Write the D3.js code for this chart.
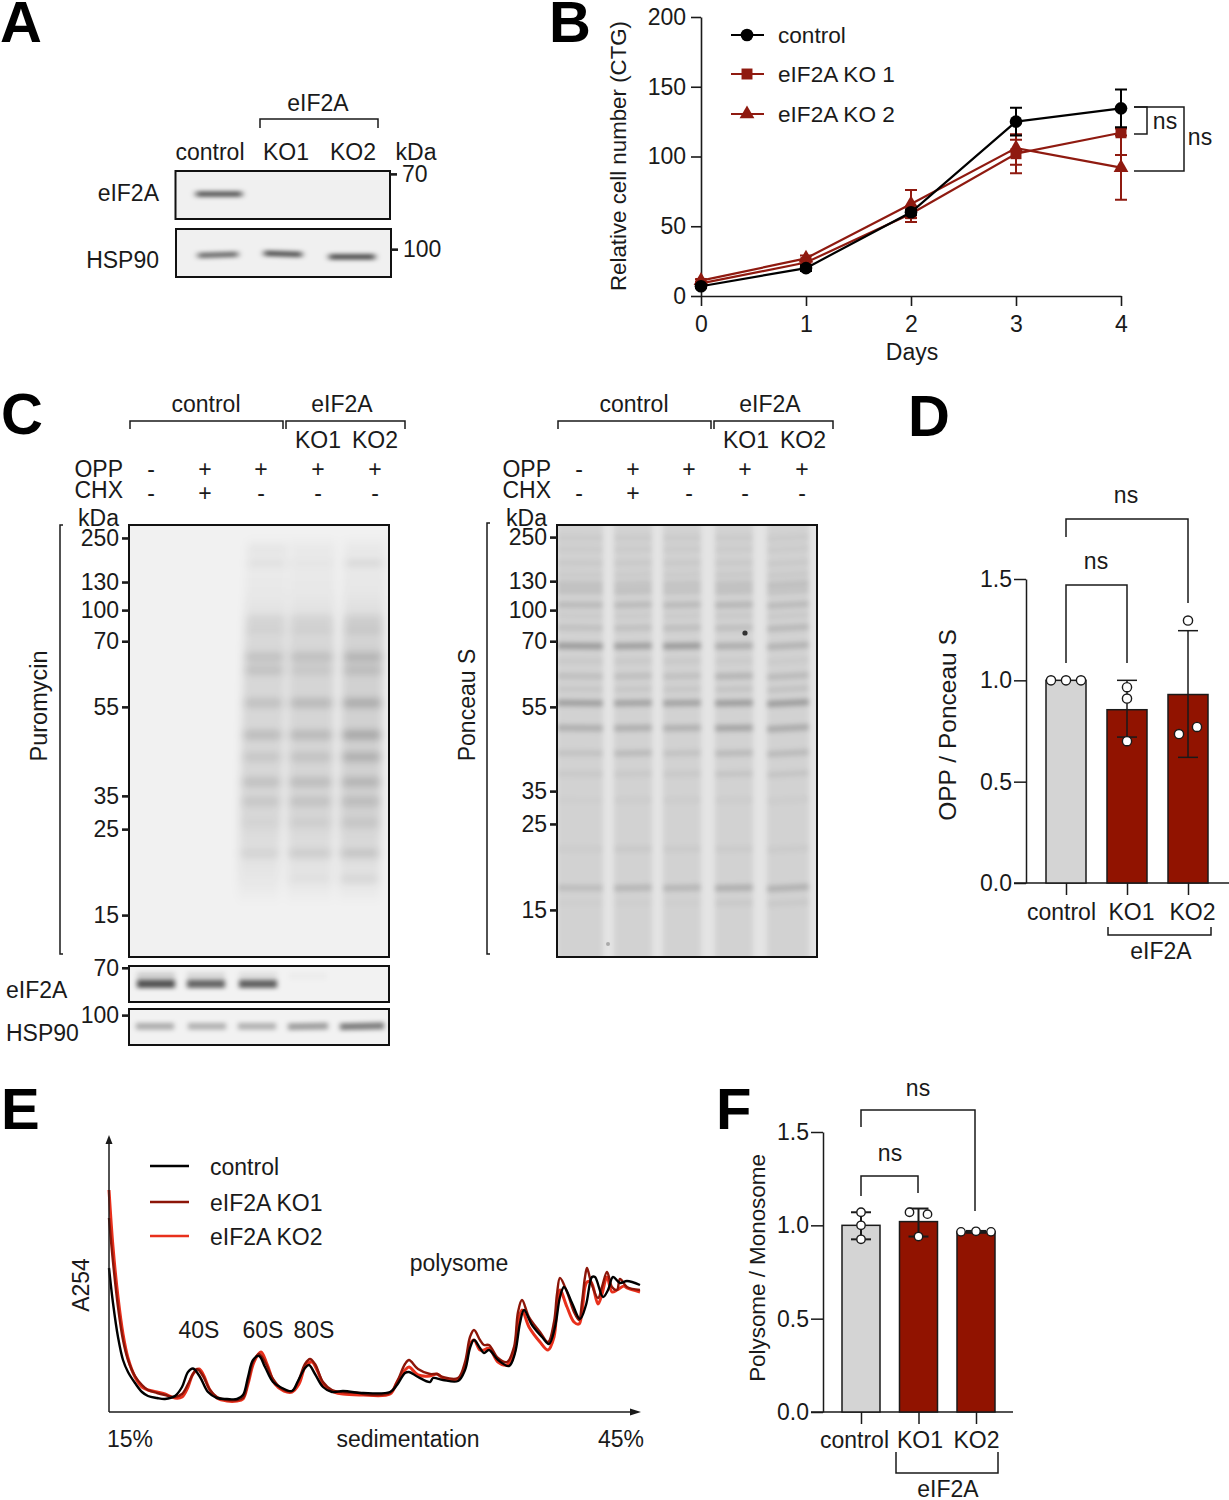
<!DOCTYPE html>
<html lang="en">
<head>
  <meta charset="UTF-8">
  <title>eIF2A knockout figure</title>
  <style>
    body { margin: 0; background: #fff; }
    svg { display: block; }
    text { font-family: "Liberation Sans", Arial, sans-serif; font-size: 23px; fill: #1a1a1a; }
    .letter { font-size: 58px; font-weight: bold; fill: #000; }
  </style>
  <script src="https://d3js.org/d3.v7.min.js"></script>
</head>
<body>
  <div id="figure"></div>

  <script>
    // ---- panel B: growth curve
    const days = [0, 1, 2, 3, 4];
    const growthControl = [7, 20, 60, 125, 134.5];
    const growthControlLow = [6, 18, 58, 115, 121];
    const growthControlHigh = [8, 22, 62, 135, 148];
    const growthKo1 = [9, 24, 59, 102, 117];
    const growthKo1Low = [8, 22, 53, 88, 101];
    const growthKo1High = [10, 26, 64, 116, 120];
    const growthKo2 = [11, 27, 66, 106, 92];
    const growthKo2Low = [10, 25, 56, 94, 69];
    const growthKo2High = [12, 29, 76, 112, 115];
    const growthTicks = [0, 50, 100, 150, 200];
    const growthNames = ["control", "eIF2A KO 1", "eIF2A KO 2"];

    // ---- panel D: OPP / Ponceau S
    const barGroups = ["control", "KO1", "KO2"];
    const oppMeans = [1.0, 0.855, 0.93];
    const oppLow = [1.0, 0.72, 0.62];
    const oppHigh = [1.0, 1.0, 1.245];
    const oppPoints = [[1, 1, 1], [0.966, 0.91, 0.70], [1.295, 0.735, 0.77]];
    const ratioTicks = [0, 0.5, 1, 1.5];

    // ---- panel F: polysome / monosome
    const polyMeans = [1.0, 1.02, 0.965];
    const polyLow = [0.925, 0.94, 0.96];
    const polyHigh = [1.07, 1.09, 0.97];
    const polyPoints = [[1.07, 1.0, 0.925], [1.07, 1.06, 0.94], [0.965, 0.968, 0.965]];

    // ---- panel E: polysome profiles, [sedimentation, A254]
    const traceControl = [[0,144],[4,109],[9,75],[14,52],[19,40],[26,29],[33,20],[39,16],[48,14],[56,13],[66,16],[73,25],[79,40],[84,43.5],[91,35],[99,20],[108,14],[118,13],[128,13],[134,17],[139,35],[144,52],[150,56],[156,45],[164,30],[173,24],[183,21],[189,31],[196,44],[200,47],[206,38],[214,25],[223,20],[234,21],[251,19],[254,19],[281,20],[288,27],[296,39],[300,40],[309,35],[321,30],[324,34],[334,32],[349,31],[356,42],[361,64],[365,72],[371,64],[375,59],[380,62],[389,52],[400,46],[406,59],[411,89],[415,102],[423,87],[433,75],[440,68],[446,85],[451,115],[455,125],[463,109],[471,93],[477,107],[483,135],[486,135],[494,115],[499,122],[504,135],[511,129],[518,131],[531,127]];
    const traceKo1 = [[0,194],[4,150],[9,105],[14,72],[19,52],[26,36],[33,27],[39,22],[48,19],[56,17],[66,15],[73,18],[79,28],[84,38],[88,43],[94,36],[101,22],[108,15],[118,12],[128,12],[134,14],[139,30],[144,50],[150,58],[156,50],[164,33],[173,23],[183,21],[189,30],[196,48],[201,53],[206,48],[214,30],[223,22],[234,20],[251,19],[254,18],[281,19],[288,30],[296,48],[300,52],[309,43],[321,38],[328,38],[334,35],[349,34],[356,50],[361,75],[365,82],[371,72],[375,67],[380,67],[389,54],[398,50],[405,65],[409,100],[413,112],[420,95],[431,80],[439,70],[445,90],[448,118],[451,134],[458,120],[465,100],[470,92],[473,110],[476,135],[478,144],[482,130],[489,114],[493,125],[498,140],[503,125],[508,122],[511,133],[518,125],[531,122]];
    const traceKo2 = [[0,222],[4,165],[9,115],[14,78],[19,54],[26,35],[33,25],[39,22],[48,20],[56,18],[66,14],[73,15],[79,25],[84,38],[90,43],[94,38],[101,22],[108,14],[118,11],[128,11],[134,13],[139,28],[145,50],[152,60],[158,48],[166,28],[175,21],[183,20],[190,28],[197,47],[203,50],[208,42],[216,25],[225,20],[234,18],[251,17],[254,17],[281,18],[288,30],[296,42],[300,45],[309,37],[321,36],[328,38],[334,34],[349,33],[356,45],[361,68],[365,72],[371,62],[375,62],[380,64],[389,50],[398,47],[405,58],[409,90],[413,102],[420,85],[431,70],[439,62],[445,75],[448,105],[451,122],[458,105],[465,90],[470,88],[473,100],[476,125],[478,130],[482,130],[489,108],[493,118],[498,135],[503,120],[508,122],[515,126],[518,124],[531,120]];
    const traceNames = ["control", "eIF2A KO1", "eIF2A KO2"];
    const peakNames = ["40S", "60S", "80S", "polysome"];

    // ---- blots: kDa ladders (migration in % of gel height)
    const ladderLabels = ["250", "130", "100", "70", "55", "35", "25", "15"];
    const puroLadder = [3, 13.2, 19.7, 26.9, 42.1, 62.7, 70.4, 90.3];
    const ponceauLadder = [2.8, 13, 19.7, 26.9, 42.1, 61.6, 69.2, 89.1];
    const oppSigns = ["-", "+", "+", "+", "+"];
    const chxSigns = ["-", "+", "-", "-", "-"];

    // band rows: [migration %, opacity in each lane]
    const panelAEif2a = [[48, [0.7, 0, 0]]];
    const panelAHsp90 = [[54, [0.6, 0, 0]], [52, [0, 0.72, 0]], [58, [0, 0, 0.75]]];
    const puroBands = [
      [5.8, [0, 0, 0.04, 0.02, 0.02]], [8.8, [0, 0, 0.05, 0.03, 0.07]],
      [22, [0, 0, 0.06, 0.06, 0.07]], [24.3, [0, 0, 0.06, 0.06, 0.08]],
      [30.6, [0, 0, 0.1, 0.11, 0.15]], [33.6, [0, 0, 0.1, 0.07, 0.11]],
      [41.2, [0, 0, 0.11, 0.14, 0.19]], [48.6, [0, 0, 0.13, 0.14, 0.21]],
      [53.7, [0, 0, 0.08, 0.09, 0.17]], [59.5, [0, 0, 0.11, 0.12, 0.15]],
      [64, [0, 0, 0.08, 0.09, 0.11]], [69, [0, 0, 0.03, 0.05, 0.07]],
      [76, [0, 0, 0.06, 0.09, 0.11]], [82, [0, 0, 0, 0.03, 0.06]]
    ];
    const puroSmear = [0, 0, 0.12, 0.13, 0.15];
    const ponceauBands = [
      [3, [0.04, 0.04, 0.04, 0.04, 0.04]],
      [5.6, [0.04, 0.04, 0.04, 0.04, 0.04]], [8.8, [0.05, 0.05, 0.05, 0.05, 0.05]],
      [11.5, [0.04, 0.04, 0.04, 0.05, 0.05]],
      [13.7, [0.09, 0.08, 0.08, 0.09, 0.1]], [15.3, [0.09, 0.09, 0.08, 0.09, 0.08]],
      [18.5, [0.12, 0.12, 0.12, 0.14, 0.12]], [21, [0.04, 0.04, 0.04, 0.05, 0.05]],
      [23.8, [0.09, 0.09, 0.1, 0.1, 0.13]],
      [28, [0.28, 0.26, 0.28, 0.19, 0.16]], [31.5, [0.05, 0.05, 0.05, 0.04, 0.04]],
      [35, [0.1, 0.1, 0.09, 0.15, 0.12]], [38, [0.06, 0.06, 0.06, 0.07, 0.08]],
      [41.2, [0.26, 0.24, 0.24, 0.27, 0.27]], [47, [0.18, 0.18, 0.17, 0.23, 0.2]],
      [52.8, [0.08, 0.12, 0.08, 0.12, 0.12]], [57.6, [0.05, 0.05, 0.05, 0.07, 0.07]],
      [63.7, [0.02, 0.03, 0.03, 0.03, 0.03]], [75, [0.03, 0.05, 0.04, 0.04, 0.04]],
      [84, [0.11, 0.14, 0.14, 0.18, 0.17]], [87.5, [0.02, 0.02, 0.02, 0.05, 0.05]]
    ];
    const stripEif2a = [[50, [0.66, 0.58, 0.6, 0, 0]], [28, [0.14, 0.1, 0.08, 0.02, 0]]];
    const stripHsp90 = [[48, [0.28, 0.26, 0.26, 0.34, 0.48]]];

    const W = 1229, H = 1500;
    const ink = "#1a1a1a", darkRed = "#8f1a10", barRed = "#911300", barGrey = "#d4d4d4";

    const svg = d3.select("#figure").append("svg").attr("width", W).attr("height", H);
    const defs = svg.append("defs");

    function addBlur(id, sx, sy) {
      defs.append("filter").attr("id", id)
        .attr("filterUnits", "userSpaceOnUse")
        .attr("x", 0).attr("y", 0).attr("width", W).attr("height", H)
        .append("feGaussianBlur").attr("stdDeviation", `${sx} ${sy}`);
    }
    addBlur("soft", 3, 2.3);
    addBlur("hazy", 4, 3.8);
    addBlur("softer", 2.5, 2);
    addBlur("ponceau", 2.5, 2.5);

    function txt(x, y, s, anchor = "middle", parent = svg) {
      return parent.append("text").attr("x", x).attr("y", y).attr("text-anchor", anchor).text(s);
    }
    function vtxt(x, y, s, size = 23) {
      return svg.append("text").attr("transform", `translate(${x},${y}) rotate(-90)`)
        .attr("text-anchor", "middle").style("font-size", size + "px").text(s);
    }
    function poly(points, width = 1.5, parent = svg) {
      return parent.append("path").attr("d", d3.line()(points))
        .attr("fill", "none").attr("stroke", ink).attr("stroke-width", width);
    }
    function styleAxis(g, width = 1.6) {
      g.selectAll("path,line").attr("stroke", ink).attr("stroke-width", width);
      g.selectAll("text").attr("font-size", null).attr("font-family", null).attr("fill", ink);
      g.attr("font-size", null).attr("font-family", null);
      return g;
    }

    // panel letters
    [["A", 0, 42], ["B", 549, 42], ["C", 1, 434], ["D", 908, 436], ["E", 1, 1129], ["F", 716, 1129]]
      .forEach(([s, x, y]) => txt(x, y, s, "start").attr("class", "letter"));

    // generic blot: gel box, lanes, blurred bands
    let blotId = 0;
    function drawBlot(o) {
      const id = "blot" + (++blotId);
      defs.append("clipPath").attr("id", id).append("rect")
        .attr("x", o.x).attr("y", o.y).attr("width", o.w).attr("height", o.h);
      const y = d3.scaleLinear().domain([0, 100]).range([o.y, o.y + o.h]);
      const g = svg.append("g").attr("clip-path", `url(#${id})`);
      g.append("rect").attr("x", o.x).attr("y", o.y).attr("width", o.w).attr("height", o.h).attr("fill", o.bg);

      const skew = o.skew || o.centers.map(() => 0);
      const tilt = o.tilt || o.centers.map(() => 0);
      const laneG = g.append("g").attr("filter", `url(#${o.blur || "soft"})`);

      if (o.smear) {
        o.smear.forEach((op, i) => {
          if (!op) return;
          const gid = `${id}-smear${i}`;
          const grad = defs.append("linearGradient").attr("id", gid).attr("x1", 0).attr("x2", 0).attr("y1", 0).attr("y2", 1);
          [[0, 0.1], [0.15, 0.3], [0.3, 0.9], [0.75, 0.9], [0.93, 0.35], [1, 0]].forEach(([t, a]) => {
            grad.append("stop").attr("offset", t).attr("stop-color", "#000").attr("stop-opacity", a * op);
          });
          const top = 3, bot = 88, hw = o.widths[i] / 2 + 2;
          const c = p => o.centers[i] + skew[i] * p / 100;
          laneG.append("path").attr("fill", `url(#${gid})`)
            .attr("d", d3.line()([[c(top) - hw, y(top)], [c(top) + hw, y(top)], [c(bot) + hw, y(bot)], [c(bot) - hw, y(bot)]]) + "Z");
        });
      }
      if (o.laneShade) {
        o.centers.forEach((c, i) => {
          laneG.append("rect").attr("x", c - o.widths[i] / 2).attr("y", o.y - 10)
            .attr("width", o.widths[i]).attr("height", o.h + 20)
            .attr("fill", "#000").attr("opacity", o.laneShade);
        });
      }
      o.bands.forEach(([pos, ops]) => {
        ops.forEach((op, i) => {
          if (!op) return;
          const cx = o.centers[i] + skew[i] * pos / 100;
          laneG.append("rect")
            .attr("x", cx - o.widths[i] / 2).attr("y", y(pos) - o.thick / 2)
            .attr("width", o.widths[i]).attr("height", o.thick)
            .attr("transform", `rotate(${tilt[i]},${cx},${y(pos)})`)
            .attr("fill", "#000").attr("opacity", op);
        });
      });
      svg.append("rect").attr("x", o.x).attr("y", o.y).attr("width", o.w).attr("height", o.h)
        .attr("fill", "none").attr("stroke", "#111").attr("stroke-width", 2);
      return { g, y };
    }
    function ladder(y, x, positions, labels) {
      const axis = d3.axisLeft(y).tickValues(positions).tickFormat((d, i) => labels[i])
        .tickSize(7).tickPadding(3).tickSizeOuter(0);
      const g = svg.append("g").attr("transform", `translate(${x},0)`).call(axis);
      g.select(".domain").remove();
      styleAxis(g, 2.6);
      g.selectAll("text").attr("dy", "0.33em");
      return g;
    }
    function ladderRight(y, x, positions, labels) {
      const axis = d3.axisRight(y).tickValues(positions).tickFormat((d, i) => labels[i])
        .tickSize(7).tickPadding(5).tickSizeOuter(0);
      const g = svg.append("g").attr("transform", `translate(${x},0)`).call(axis);
      g.select(".domain").remove();
      styleAxis(g, 2.6);
      g.selectAll("text").attr("dy", "0.33em");
      return g;
    }

    // ---- Panel A
    txt(318, 111, "eIF2A");
    poly([[260, 128], [260, 119], [378, 119], [378, 128]]);
    txt(210, 160, "control");
    txt(286, 160, "KO1");
    txt(353, 160, "KO2");
    txt(416, 160, "kDa");
    txt(159, 201, "eIF2A", "end");
    txt(159, 268, "HSP90", "end");
    const aTop = drawBlot({ x: 175.5, y: 171, w: 214.5, h: 48, bg: "#f0f0f0", centers: [219, 283, 352], widths: [46, 40, 46], thick: 5, bands: panelAEif2a });
    const aBot = drawBlot({ x: 176, y: 229, w: 215, h: 48, bg: "#f0f0f0", centers: [218, 283, 352], widths: [40, 38, 46], thick: 5, tilt: [-2, 2, 0], bands: panelAHsp90 });
    ladderRight(aTop.y, 390, [6], ["70"]);
    ladderRight(aBot.y, 391, [42], ["100"]);

    // ---- Panel B
    const bx = d3.scaleLinear().domain([0, 4]).range([701, 1121]);
    const by = d3.scaleLinear().domain([0, 200]).range([296, 17]);
    const bAxisX = svg.append("g").attr("transform", "translate(0,296)")
      .call(d3.axisBottom(bx).tickValues(days).tickFormat(d3.format("d")).tickSize(10).tickPadding(10).tickSizeOuter(0));
    styleAxis(bAxisX);
    const bAxisY = svg.append("g").attr("transform", "translate(701,0)")
      .call(d3.axisLeft(by).tickValues(growthTicks).tickSize(10).tickPadding(5).tickSizeOuter(0));
    styleAxis(bAxisY);
    txt(912, 360, "Days");
    vtxt(626, 156, "Relative cell number (CTG)", 22.3);

    const growthSeries = [
      { y: growthKo2, lo: growthKo2Low, hi: growthKo2High, color: darkRed, symbol: d3.symbolTriangle, size: 95 },
      { y: growthKo1, lo: growthKo1Low, hi: growthKo1High, color: darkRed, symbol: d3.symbolSquare, size: 120 },
      { y: growthControl, lo: growthControlLow, hi: growthControlHigh, color: "#000", symbol: d3.symbolCircle, size: 125 }
    ];
    growthSeries.forEach(s => {
      const g = svg.append("g");
      days.forEach((d, i) => {
        const x = bx(d);
        g.append("path").attr("fill", "none").attr("stroke", s.color).attr("stroke-width", 2)
          .attr("d", d3.line()([[x - 6, by(s.lo[i])], [x + 6, by(s.lo[i])]]) + d3.line()([[x, by(s.lo[i])], [x, by(s.hi[i])]]) + d3.line()([[x - 6, by(s.hi[i])], [x + 6, by(s.hi[i])]]));
      });
      g.append("path").datum(s.y).attr("fill", "none").attr("stroke", s.color).attr("stroke-width", 2.2)
        .attr("d", d3.line().x((v, i) => bx(days[i])).y(v => by(v)));
      g.selectAll("path.mark").data(s.y).join("path").attr("class", "mark")
        .attr("d", d3.symbol().type(s.symbol).size(s.size))
        .attr("transform", (v, i) => `translate(${bx(days[i])},${by(v)})`)
        .attr("fill", s.color);
    });
    // legend
    [growthSeries[2], growthSeries[1], growthSeries[0]].forEach((s, i) => {
      const ly = [35, 74, 114][i];
      svg.append("line").attr("x1", 731).attr("x2", 764).attr("y1", ly).attr("y2", ly).attr("stroke", s.color).attr("stroke-width", 2.2);
      svg.append("path").attr("d", d3.symbol().type(s.symbol).size(s.size)).attr("transform", `translate(747,${ly})`).attr("fill", s.color);
      txt(778, ly + 8, growthNames[i], "start").style("font-size", "22.6px");
    });
    poly([[1134, 107], [1147, 107], [1147, 134], [1134, 134]]);
    poly([[1134, 107], [1184, 107], [1184, 171], [1134, 171]]);
    txt(1165, 129, "ns");
    txt(1200, 145, "ns");

    // ---- Panel C, shared header
    function blotHeader(x0, labelRight, signs) {
      txt(x0 + 76, 412, "control");
      txt(x0 + 212, 412, "eIF2A");
      poly([[x0, 429], [x0, 421], [x0 + 153, 421], [x0 + 153, 429]]);
      poly([[x0 + 156, 429], [x0 + 156, 421], [x0 + 275, 421], [x0 + 275, 429]]);
      txt(x0 + 188, 448, "KO1");
      txt(x0 + 245, 448, "KO2");
      txt(labelRight, 477, "OPP", "end");
      txt(labelRight, 498, "CHX", "end");
      txt(labelRight - 4, 526, "kDa", "end");
      signs.forEach((x, i) => {
        txt(x, 477, oppSigns[i]);
        txt(x, 501, chxSigns[i]);
      });
    }
    blotHeader(130, 123, [151, 205, 261, 318, 375]);
    blotHeader(558, 551, [579, 633, 689, 745, 802]);

    const puro = drawBlot({
      x: 129, y: 525, w: 260, h: 432, bg: "#f1f1f1",
      centers: [151, 205, 268, 313, 365], widths: [40, 40, 38, 42, 38], skew: [0, 0, -11, -4, -7],
      thick: 9, blur: "hazy", smear: puroSmear, bands: puroBands
    });
    ladder(puro.y, 129, puroLadder, ladderLabels);
    poly([[63, 525], [60, 525], [60, 954], [63, 954]]);
    vtxt(47, 706, "Puromycin", 23.5);

    const strip1 = drawBlot({ x: 129, y: 966, w: 260, h: 36, bg: "#f2f2f2", centers: [156, 206, 258, 308, 362], widths: [38, 38, 38, 38, 38], thick: 8, blur: "softer", bands: stripEif2a });
    const strip2 = drawBlot({ x: 129, y: 1009, w: 260, h: 36, bg: "#f2f2f2", centers: [155, 207, 257, 308, 362], widths: [38, 38, 38, 40, 44], tilt: [0, 0, 0, -1, -1.5], thick: 7, blur: "softer", bands: stripHsp90 });
    ladder(strip1.y, 129, [5], ["70"]);
    ladder(strip2.y, 129, [17], ["100"]);
    txt(6, 998, "eIF2A", "start");
    txt(6, 1041, "HSP90", "start");

    const ponceau = drawBlot({
      x: 557, y: 525, w: 260, h: 432, bg: "#e4e4e4",
      centers: [580, 633, 682, 734, 788], widths: [46, 38, 38, 38, 42], tilt: [0.5, -1, -1, -1, -3],
      thick: 6, blur: "ponceau", laneShade: 0.08, bands: ponceauBands
    });
    ponceau.g.append("circle").attr("cx", 745).attr("cy", 633).attr("r", 2.6).attr("fill", "#333");
    ponceau.g.append("circle").attr("cx", 608).attr("cy", 944).attr("r", 2).attr("fill", "#aaa");
    ladder(ponceau.y, 557, ponceauLadder, ladderLabels);
    poly([[490, 523], [487, 523], [487, 954], [490, 954]]);
    vtxt(475, 705, "Ponceau S");

    // ---- bar panels D and F
    function barPanel(o) {
      const y = d3.scaleLinear().domain([0, 1.5]).range([o.y0, o.y1]);
      const x = d3.scalePoint().domain(barGroups).range(o.xRange);
      const gy = svg.append("g").attr("transform", `translate(${o.xAxis},0)`)
        .call(d3.axisLeft(y).tickValues(ratioTicks).tickFormat(d3.format(".1f")).tickSize(o.tickLen).tickPadding(2).tickSizeOuter(0));
      styleAxis(gy, 1.5);
      const gx = svg.append("g").attr("transform", `translate(0,${o.y0})`)
        .call(d3.axisBottom(x).tickSize(12).tickPadding(o.tickPad).tickSizeOuter(0));
      gx.select(".domain").remove();
      styleAxis(gx, 1.5);
      gx.selectAll("text").attr("dx", (d, i) => o.labelShift[i]);
      svg.append("line").attr("x1", o.xAxis - o.tickLen).attr("x2", o.axisEnd).attr("y1", o.y0).attr("y2", o.y0)
        .attr("stroke", ink).attr("stroke-width", 1.5);

      barGroups.forEach((c, i) => {
        const cx = x(c);
        svg.append("rect").attr("x", cx - o.barW / 2).attr("y", y(o.means[i]))
          .attr("width", o.barW).attr("height", o.y0 - y(o.means[i]))
          .attr("fill", i === 0 ? barGrey : barRed).attr("stroke", ink).attr("stroke-width", 1.5);
        if (o.hi[i] - o.lo[i] > 0.001) {
          [o.lo[i], o.hi[i]].forEach(v => poly([[cx - 10, y(v)], [cx + 10, y(v)]], o.errW));
          poly([[cx, y(o.lo[i])], [cx, y(o.hi[i])]], o.errW);
        }
      });
      barGroups.forEach((c, i) => {
        svg.selectAll(null).data(o.points[i]).join("circle")
          .attr("cx", (v, j) => x(c) + o.jitter[i][j])
          .attr("cy", v => y(v))
          .attr("r", o.r).attr("fill", "#fff").attr("stroke", ink).attr("stroke-width", 1.4);
      });
      return { x, y };
    }

    const panelD = barPanel({
      y0: 883, y1: 579, xAxis: 1026, tickLen: 12, axisEnd: 1229, xRange: [1066, 1188], barW: 40,
      tickPad: 9, labelShift: [-5, 4, 4], means: oppMeans, lo: oppLow, hi: oppHigh, points: oppPoints,
      jitter: [[-15, 0, 15], [0, 0, 0], [0, -9, 9]], r: 4.6, errW: 1.5
    });
    poly([[1066, 537], [1066, 519], [1188, 519], [1188, 603]]);
    poly([[1066, 663], [1066, 585], [1127, 585], [1127, 663]]);
    txt(1126, 503, "ns");
    txt(1096, 569, "ns");
    poly([[1108, 927], [1108, 935], [1211, 935], [1211, 927]]);
    txt(1161, 959, "eIF2A");
    vtxt(956, 725, "OPP / Ponceau S", 24.5);

    const panelF = barPanel({
      y0: 1412, y1: 1132, xAxis: 823, tickLen: 12, axisEnd: 1013, xRange: [861, 976], barW: 38,
      tickPad: 8, labelShift: [-7, 1, 0], means: polyMeans, lo: polyLow, hi: polyHigh, points: polyPoints,
      jitter: [[0, 0, 0], [-9, 9, 0], [-15, 0, 15]], r: 4.2, errW: 2
    });
    poly([[861, 1127], [861, 1110], [975, 1110], [975, 1211]]);
    poly([[861, 1196], [861, 1176], [918, 1176], [918, 1193]]);
    txt(918, 1096, "ns");
    txt(890, 1161, "ns");
    poly([[896, 1452], [896, 1473], [998, 1473], [998, 1452]]);
    txt(948, 1497, "eIF2A");
    vtxt(765, 1268, "Polysome / Monosome", 22.4);

    // ---- Panel E
    const ex = d3.scaleLinear().domain([0, 531]).range([109, 640]);
    const ey = d3.scaleLinear().domain([0, 272]).range([1412, 1140]);
    const traceLine = d3.line().x(d => ex(d[0])).y(d => ey(d[1])).curve(d3.curveCatmullRom.alpha(0.5));
    const traces = [
      { data: traceKo2, color: "#e8301c", width: 3 },
      { data: traceKo1, color: "#8c1508", width: 2.4 },
      { data: traceControl, color: "#000", width: 2.4 }
    ];
    traces.forEach(t => {
      svg.append("path").datum(t.data).attr("d", traceLine)
        .attr("fill", "none").attr("stroke", t.color).attr("stroke-width", t.width);
    });
    poly([[109, 1412], [109, 1142]], 1.5);
    poly([[109, 1412], [634, 1412]], 1.5);
    svg.append("path").attr("d", d3.line()([[109, 1135], [105.5, 1144], [112.5, 1144]]) + "Z").attr("fill", ink);
    svg.append("path").attr("d", d3.line()([[641, 1412], [630, 1408.5], [630, 1415.5]]) + "Z").attr("fill", ink);
    [traces[2], traces[1], traces[0]].forEach((t, i) => {
      const ly = [1166, 1202, 1236][i];
      svg.append("line").attr("x1", 150).attr("x2", 189).attr("y1", ly).attr("y2", ly).attr("stroke", t.color).attr("stroke-width", 2.5);
      txt(210, ly + 9, traceNames[i], "start");
    });
    vtxt(89, 1285, "A254");
    txt(199, 1338, peakNames[0]);
    txt(263, 1338, peakNames[1]);
    txt(314, 1338, peakNames[2]);
    txt(459, 1271, peakNames[3]);
    txt(107, 1447, "15%", "start");
    txt(408, 1447, "sedimentation");
    txt(621, 1447, "45%");
  </script>
</body>
</html>
